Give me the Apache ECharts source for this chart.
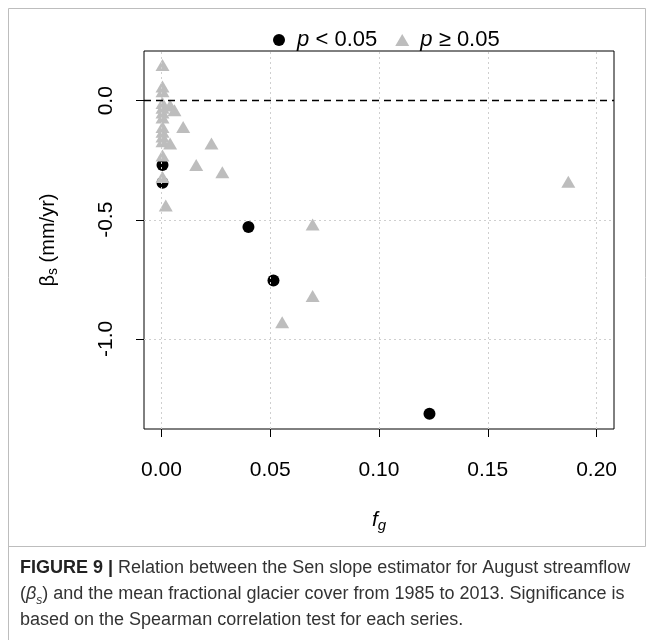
<!DOCTYPE html>
<html><head><meta charset="utf-8">
<script src="https://cdn.jsdelivr.net/npm/echarts@6/dist/echarts.min.js"></script>
<style>html,body{margin:0;padding:0;background:#fff}#c{width:654px;height:644px}</style>
</head><body><div id="c"></div>
<script>
// significant (p < 0.05)
const sigX = [0.0005, 0.0005, 0.040, 0.0515, 0.1232];
const sigY = [-0.27, -0.345, -0.53, -0.755, -1.315];
// not significant (p >= 0.05)
const nsX = [0.0005, 0.0005, 0.0005, 0.0005, 0.0005, 0.0005, 0.0005, 0.0005, 0.0005, 0.0005, 0.0005, 0.0005, 0.0005, 0.002, 0.004, 0.006, 0.010, 0.004, 0.016, 0.023, 0.028, 0.0555, 0.0695, 0.0695, 0.187];
const nsY = [0.15, 0.06, 0.04, -0.01, -0.03, -0.05, -0.07, -0.11, -0.13, -0.15, -0.17, -0.23, -0.32, -0.44, -0.02, -0.04, -0.11, -0.18, -0.27, -0.18, -0.30, -0.93, -0.52, -0.82, -0.34];
const xTicks = [0, 0.05, 0.10, 0.15, 0.20];
const yTicks = [-1.0, -0.5, 0.0];
const seriesNames = ['p < 0.05', 'p \u2265 0.05'];
const captionLines = [
  '{b|FIGURE 9 | }{t|Relation between the Sen slope estimator for August streamflow}',
  '{t|(}{it|\u03b2}{sub|s}{t|) and the mean fractional glacier cover from 1985 to 2013. Significance is}',
  '{t|based on the Spearman correlation test for each series.}'
];

const FONT = '"Liberation Sans", Arial, Helvetica, sans-serif';
const chart = echarts.init(document.getElementById('c'), null, {renderer: 'canvas'});
const zip = (a, b) => a.map((v, i) => [v, b[i]]);

const option = {
  animation: false,
  backgroundColor: '#fff',
  textStyle: {fontFamily: FONT},
  grid: {left: 144, right: 40, top: 51, bottom: 215, show: true, borderColor: '#000', borderWidth: 1, backgroundColor: 'transparent'},
  xAxis: {
    type: 'value', min: -0.008, max: 0.208,
    axisLine: {show: false, onZero: false}, splitLine: {show: false},
    axisTick: {show: true, customValues: xTicks, length: 8, inside: false, lineStyle: {color: '#000', width: 1}},
    axisLabel: {customValues: xTicks, formatter: v => v.toFixed(2), fontSize: 21, color: '#000', fontFamily: FONT, margin: 31}
  },
  yAxis: {
    type: 'value', min: -1.3788, max: 0.2088,
    axisLine: {show: false, onZero: false}, splitLine: {show: false},
    axisTick: {show: true, customValues: yTicks, length: 8, inside: false, lineStyle: {color: '#000', width: 1}},
    axisLabel: {customValues: yTicks, formatter: v => v.toFixed(1), fontSize: 21, color: '#000', fontFamily: FONT, margin: 27, rotate: 90}
  },
  legend: {
    left: 268, top: 24, itemWidth: 14, itemHeight: 12, itemGap: 18,
    data: seriesNames,
    formatter: n => ' ' + n.replace('p', '{i|p}'),
    textStyle: {fontSize: 22, color: '#000', fontFamily: FONT, rich: {i: {fontStyle: 'italic', fontSize: 22, fontFamily: FONT}}}
  },
  series: [
    {
      type: 'scatter', name: 'guides', data: [], silent: true, z: 1,
      markLine: {
        silent: true, symbol: 'none', label: {show: false}, animation: false,
        lineStyle: {color: '#cfcfcf', type: [2, 3], width: 1},
        data: xTicks.map(v => ({xAxis: v})).concat(yTicks.filter(v => v !== 0).map(v => ({yAxis: v})))
          .concat([{yAxis: 0, lineStyle: {color: '#000', type: [7, 5], width: 1.3}}])
      }
    },
    {
      type: 'scatter', name: seriesNames[0], symbol: 'circle', symbolSize: 12, z: 3,
      itemStyle: {color: '#000', opacity: 1},
      data: zip(sigX, sigY)
    },
    {
      type: 'scatter', name: seriesNames[1], symbol: 'triangle', symbolSize: [14, 12], z: 4,
      itemStyle: {color: '#bdbdbd', opacity: 1},
      data: zip(nsX, nsY)
    }
  ],
  graphic: [
    {type: 'rect', shape: {x: 8.5, y: 8.5, width: 637, height: 538}, style: {fill: 'none', stroke: '#bdbdbd', lineWidth: 1}, silent: true},
    {type: 'line', shape: {x1: 8.5, y1: 546, x2: 8.5, y2: 640}, style: {stroke: '#bdbdbd', lineWidth: 1}, silent: true},
    {
      type: 'text', x: 48, y: 240, rotation: Math.PI / 2, silent: true,
      style: {
        text: '{n|\u03b2}{s|s}{n| (mm/yr)}', align: 'center', verticalAlign: 'middle', fill: '#000',
        rich: {n: {fontSize: 20, fontFamily: FONT, lineHeight: 24, verticalAlign: 'middle'}, s: {fontSize: 14, fontFamily: FONT, lineHeight: 24, verticalAlign: 'bottom'}}
      }
    },
    {
      type: 'text', x: 379, y: 520, silent: true,
      style: {
        text: '{f|f}{g|g}', align: 'center', verticalAlign: 'middle', fill: '#000',
        rich: {f: {fontSize: 21, fontStyle: 'italic', fontFamily: FONT, lineHeight: 26, verticalAlign: 'middle'}, g: {fontSize: 15, fontStyle: 'italic', fontFamily: FONT, lineHeight: 26, verticalAlign: 'bottom'}}
      }
    },
    {
      type: 'text', x: 20, y: 555, silent: true,
      style: {
        text: captionLines.join('\n'), align: 'left', verticalAlign: 'top', fill: '#222',
        rich: {
          b: {fontSize: 18, fontWeight: 'bold', fontFamily: FONT, lineHeight: 26, fill: '#222'},
          t: {fontSize: 18, fontFamily: FONT, lineHeight: 26, fill: '#333'},
          it: {fontSize: 18, fontStyle: 'italic', fontFamily: FONT, lineHeight: 26, fill: '#333'},
          sub: {fontSize: 12, fontStyle: 'italic', fontFamily: FONT, lineHeight: 23, verticalAlign: 'bottom', fill: '#333'}
        }
      }
    }
  ]
};
chart.setOption(option);
</script>
</body></html>
